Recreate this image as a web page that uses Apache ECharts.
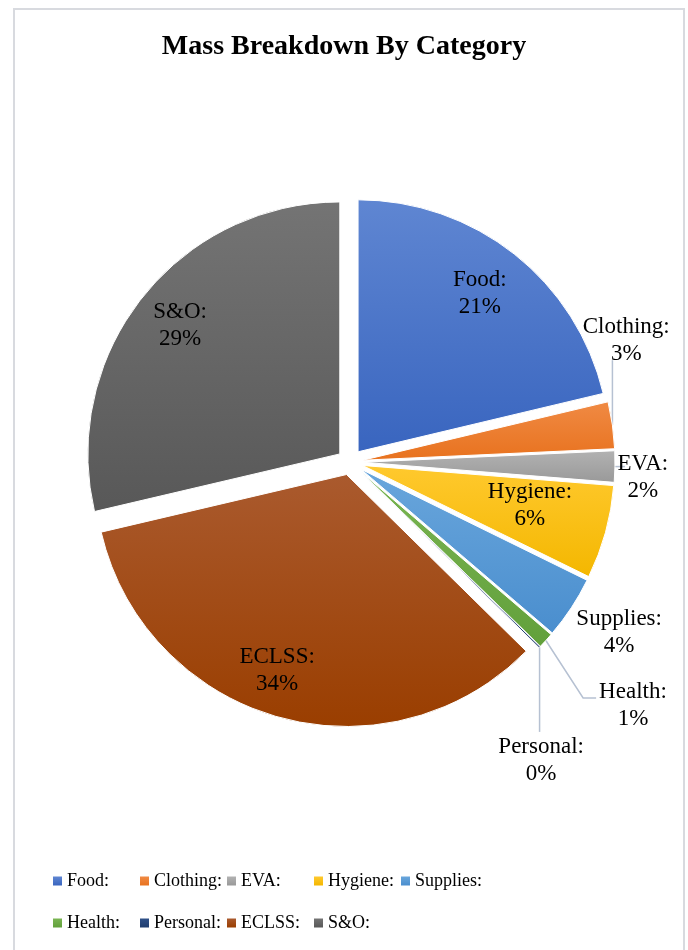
<!DOCTYPE html>
<html><head><meta charset="utf-8">
<script src="https://cdn.jsdelivr.net/npm/echarts@6/dist/echarts.min.js"></script>
<style>
html,body{margin:0;padding:0;background:#fff;overflow:hidden;}
#frame{position:absolute;left:13px;top:8px;width:672px;height:970px;border:2px solid #d8dadf;box-sizing:border-box;}
#chart{position:absolute;left:0;top:0;width:688px;height:950px;}
</style></head><body>
<div id="frame"></div><div id="chart"></div>
<script>
// ---- data ----
const categories = ['Food:', 'Clothing:', 'EVA:', 'Hygiene:', 'Supplies:', 'Health:', 'Personal:', 'ECLSS:', 'S&O:'];
const shares = [21.3, 3.0, 2.0, 6.0, 4.0, 1.0, 0.1, 34.0, 28.7];
const lightColors = ['#5F86D2', '#F08A44', '#B2B2B2', '#FFC92E', '#69A6DC', '#7AB553', '#2F5088', '#AA5A2E', '#747474'];
const darkColors  = ['#3965BF', '#E8721E', '#999999', '#F4B700', '#4A8ECE', '#62A03B', '#203D6E', '#9A3E00', '#585858'];

// ---- layout (not data) ----
const CX = 350, CY = 462, R = 252, OFFSET = 13;
const FONT = "'Liberation Serif', 'Times New Roman', serif";
const insideIdx = [0, 3, 7, 8];
// label placement: [radius factor, angle in degrees clockwise from top]
const labelSpots = [[0.843, 37.7], [1.198, 66.2], [1.164, 93.1], [0.735, 103.7], [1.265, 122.4], [1.48, 130.65], [1.408, 147.4], [0.875, 199.3], [0.864, 308.7]];
const leaderKinds = [null, 'up', 'right', null, null, 'elbow', 'down', null, null];

const total = shares.reduce((a, b) => a + b, 0);
const midAngles = [];
(function () { let acc = 0; shares.forEach(v => { midAngles.push((acc + v / 2) / total * 360); acc += v; }); })();
function polar(cx, cy, r, deg) { const a = deg * Math.PI / 180; return [cx + r * Math.sin(a), cy - r * Math.cos(a)]; }

const sliceData = categories.map((name, i) => ({
  name: name,
  value: shares[i],
  selected: true,
  itemStyle: {
    color: new echarts.graphic.LinearGradient(0, 0, 0, 1, [
      { offset: 0, color: lightColors[i] }, { offset: 1, color: darkColors[i] }
    ])
  }
}));

const labelData = categories.map((name, i) => {
  const inside = insideIdx.indexOf(i) >= 0;
  return {
    name: name,
    value: shares[i],
    label: { position: inside ? 'inside' : 'outside' },
    labelLine: { show: !inside && leaderKinds[i] !== null }
  };
});

const chart = echarts.init(document.getElementById('chart'), null, { renderer: 'canvas' });
chart.setOption({
  animation: false,
  backgroundColor: 'transparent',
  title: {
    text: 'Mass Breakdown By Category',
    left: 'center',
    top: 28,
    padding: [5, 0, 5, 10],
    textStyle: { fontFamily: FONT, fontWeight: 'bold', fontSize: 28, color: '#000' }
  },
  legend: {
    data: categories,
    left: 53,
    top: 861,
    width: 440,
    padding: 0,
    orient: 'horizontal',
    icon: 'rect',
    itemWidth: 9,
    itemHeight: 9,
    itemGap: 2,
    selectedMode: false,
    itemStyle: { borderWidth: 0 },
    textStyle: { fontFamily: FONT, fontSize: 18, color: '#000', width: 71, lineHeight: 40 }
  },
  series: [{
    type: 'pie',
    center: [CX, CY],
    radius: R,
    startAngle: 90,
    clockwise: true,
    selectedMode: 'multiple',
    selectedOffset: OFFSET,
    avoidLabelOverlap: false,
    emphasis: { disabled: true },
    select: { itemStyle: { borderColor: '#ffffff', borderWidth: 1 } },
    itemStyle: { borderColor: '#ffffff', borderWidth: 1 },
    label: { show: false },
    labelLine: { show: false },
    data: sliceData
  }, {
    type: 'pie',
    center: [CX, CY],
    radius: R,
    startAngle: 90,
    clockwise: true,
    silent: true,
    selectedMode: false,
    avoidLabelOverlap: false,
    emphasis: { disabled: true },
    itemStyle: { color: 'rgba(0,0,0,0)', borderWidth: 0 },
    label: {
      show: true,
      formatter: '{b}\n{d}%',
      fontFamily: FONT,
      fontSize: 23,
      lineHeight: 27,
      color: '#000',
      align: 'center'
    },
    percentPrecision: 0,
    labelLine: { length: 5, length2: 5, lineStyle: { color: '#B6C1D2', width: 1.5 } },
    labelLayout: function (params) {
      const i = params.dataIndex;
      const spot = labelSpots[i];
      const p = polar(CX, CY, spot[0] * R, spot[1]);
      const x = p[0], y = p[1];
      const res = { x: x, y: y, align: 'center', verticalAlign: 'middle' };
      const kind = leaderKinds[i];
      if (kind) {
        const m = midAngles[i];
        const c = polar(CX, CY, OFFSET, m);
        const arc = polar(c[0], c[1], R, m);
        const h = params.labelRect.height, w = params.labelRect.width;
        let pts;
        if (kind === 'up') pts = [arc, [arc[0], y + h / 2 - 7]];
        else if (kind === 'right') pts = [arc, [x - 18, arc[1]]];
        else if (kind === 'elbow') { const yl = y - 7, left = x - w / 2; pts = [arc, [left - 16, yl], [left - 3, yl]]; }
        else if (kind === 'down') pts = [arc, [arc[0], y - h / 2 - 2]];
        res.labelLinePoints = pts;
      }
      return res;
    },
    data: labelData
  }]
});
</script>
</body></html>
